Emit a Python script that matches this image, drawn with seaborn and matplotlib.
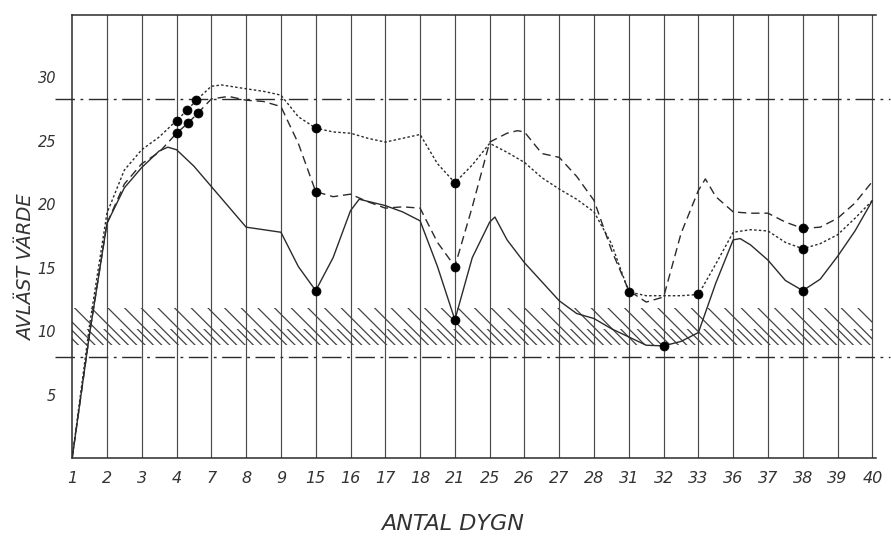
import numpy as np
import pandas as pd
import matplotlib
matplotlib.use("Agg")
import matplotlib.pyplot as plt
import seaborn as sns

# day labels on the x axis (categorical, evenly spaced)
days = ['1', '2', '3', '4', '7', '8', '9', '15', '16', '17', '18', '21',
        '25', '26', '27', '28', '31', '32', '33', '36', '37', '38', '39', '40']

# curves, positions in category-index units
solid_pos = [0, 0.5, 1, 1.5, 2, 2.5, 2.75, 3, 3.5, 4, 4.5, 5, 5.5, 6, 6.5, 7,
             7.5, 8, 8.25, 9, 9.5, 10, 10.5, 11, 11.5, 12, 12.15, 12.5, 13,
             13.5, 14, 14.5, 15, 15.5, 16, 16.5, 17, 17.5, 18, 18.5, 19, 19.2,
             19.5, 20, 20.5, 21, 21.5, 22, 22.5, 23]
solid_val = [0, 9.8, 18.5, 21.3, 22.9, 24.2, 24.5, 24.3, 23.0, 21.4, 19.8, 18.2,
             18.0, 17.8, 15.1, 13.2, 15.8, 19.5, 20.4, 19.9, 19.4, 18.7, 15.1,
             10.9, 15.8, 18.6, 19.0, 17.2, 15.4, 13.9, 12.4, 11.4, 11.0, 10.2,
             9.55, 8.9, 8.85, 9.2, 9.9, 13.8, 17.2, 17.3, 16.8, 15.6, 14.0, 13.2,
             14.1, 15.9, 17.9, 20.3]

dashed_pos = [0, 0.5, 1, 1.5, 2, 2.5, 3, 3.33, 3.62, 4, 4.5, 5, 5.5, 6, 6.5, 7,
              7.5, 8, 8.5, 9, 9.5, 10, 10.5, 11, 11.5, 12, 12.5, 12.8, 13, 13.5,
              14, 14.5, 15, 15.5, 16, 16.5, 17, 17.5, 18, 18.2, 18.5, 19, 19.5,
              20, 20.5, 21, 21.5, 22, 22.5, 23]
dashed_val = [0, 9.8, 18.5, 21.6, 23.2, 24.1, 25.6, 26.4, 27.2, 28.3, 28.5, 28.2,
              28.1, 27.7, 24.8, 21.0, 20.6, 20.8, 20.2, 19.7, 19.8, 19.7, 17.0,
              15.1, 19.8, 24.9, 25.6, 25.8, 25.7, 24.0, 23.7, 22.2, 20.3, 16.4,
              13.2, 12.3, 12.7, 17.7, 21.1, 22.0, 20.6, 19.4, 19.3, 19.3, 18.6,
              18.1, 18.2, 18.9, 20.1, 21.8]

dotted_pos = [0, 0.5, 1, 1.5, 2, 2.5, 3, 3.3, 3.57, 4, 4.3, 5, 5.5, 6, 6.5, 7,
              7.5, 8, 8.5, 9, 9.5, 10, 10.5, 11, 11.5, 12, 12.5, 13, 13.5, 14,
              14.5, 15, 15.5, 16, 16.5, 17, 17.5, 18, 18.5, 19, 19.5, 20, 20.5,
              21, 21.5, 22, 22.5, 23]
dotted_val = [0, 10.5, 19.3, 22.7, 24.3, 25.3, 26.6, 27.4, 28.2, 29.3, 29.4, 29.1,
              28.9, 28.6, 26.9, 26.0, 25.7, 25.6, 25.2, 24.9, 25.2, 25.5, 23.2,
              21.7, 23.1, 24.8, 24.1, 23.3, 22.1, 21.2, 20.4, 19.4, 16.9, 13.1,
              12.8, 12.8, 12.8, 12.9, 15.3, 17.8, 18.0, 17.9, 17.0, 16.5, 16.9,
              17.6, 18.9, 20.3]

# measured points (black dots)
dot_pos = [3, 3.3, 3.57, 7, 11, 16, 18, 21,
           3, 3.33, 3.62, 7, 11, 21,
           7, 11, 17, 21]
dot_val = [26.6, 27.4, 28.2, 26.0, 21.7, 13.1, 12.9, 16.5,
           25.6, 26.4, 27.2, 21.0, 15.1, 18.1,
           13.2, 10.9, 8.85, 13.2]

# limit lines and hatched zone
upper_limit = 28.3
lower_limit = 8.0
band_low, band_mid, band_high = 8.9, 10.2, 11.8
yticks = [5, 10, 15, 20, 25, 30]

sns.set_style("white")
plt.rcParams['font.family'] = ['DejaVu Sans']
plt.rcParams['hatch.linewidth'] = 0.9
plt.rcParams['hatch.color'] = '#444444'

ink = '#2b2b2b'
fig = plt.figure(figsize=(8.91, 5.41), dpi=100)
ax = fig.add_axes([0.081, 0.153, 0.902, 0.819])

x_idx = list(range(len(days)))
ax.set_xlim(0, 23.1)
ax.set_ylim(0, 34.9)

# vertical grid at every day
for xi in x_idx[1:]:
    ax.axvline(xi, color='#4a4a4a', lw=0.85, zorder=1)

# hatched band, denser in its lower part
ax.fill_between([0, 23], band_mid, band_high, facecolor='none',
                hatch='\\\\', edgecolor='#444444', linewidth=0, zorder=1)
ax.fill_between([0, 23], band_low, band_mid, facecolor='none',
                hatch='\\\\\\\\', edgecolor='#444444', linewidth=0, zorder=1)

# dash-dot limit lines, running past the frame
for lvl in [upper_limit, lower_limit]:
    ax.plot([-0.5, 23.5], [lvl, lvl], color=ink, lw=1.0,
            ls=(0, (14, 4, 2, 4)), clip_on=False, zorder=2)

curves = pd.concat([
    pd.DataFrame({'pos': solid_pos, 'val': solid_val, 'kind': 'solid'}),
    pd.DataFrame({'pos': dashed_pos, 'val': dashed_val, 'kind': 'dashed'}),
    pd.DataFrame({'pos': dotted_pos, 'val': dotted_val, 'kind': 'dotted'}),
])
styles = {'solid': '-', 'dashed': (0, (6, 3.5)), 'dotted': (0, (1.8, 1.6))}
for kind, sub in curves.groupby('kind'):
    sns.lineplot(data=sub, x='pos', y='val', ax=ax, color=ink, lw=1.0,
                 ls=styles[kind], sort=False, estimator=None, zorder=3)

sns.scatterplot(x=dot_pos, y=dot_val, ax=ax, color='black', s=42,
                edgecolor='black', linewidth=0.5, zorder=4)

# frame
for side in ['left', 'bottom', 'top']:
    ax.spines[side].set_color(ink)
    ax.spines[side].set_linewidth(1.1)
ax.spines['right'].set_visible(False)

ax.set_xticks(x_idx)
ax.set_xticklabels(days, fontsize=11.5, style='italic', color='#333333')
ax.tick_params(axis='x', length=0, pad=9)
ax.set_yticks(yticks)
ax.set_yticklabels([str(t) for t in yticks], fontsize=10.5, style='italic',
                   color='#333333')
ax.tick_params(axis='y', direction='inout', length=9, width=1.0,
               color=ink, pad=7)

ax.set_xlabel('ANTAL DYGN', fontsize=16, style='italic', fontweight='light',
              color='#333333')
ax.xaxis.set_label_coords(0.474, -0.125)
ax.set_ylabel('AVLÄST VÄRDE', fontsize=14, style='italic', fontweight='light',
              color='#333333')
ax.yaxis.set_label_coords(-0.045, 0.43)

fig.savefig('out.png', dpi=100)
